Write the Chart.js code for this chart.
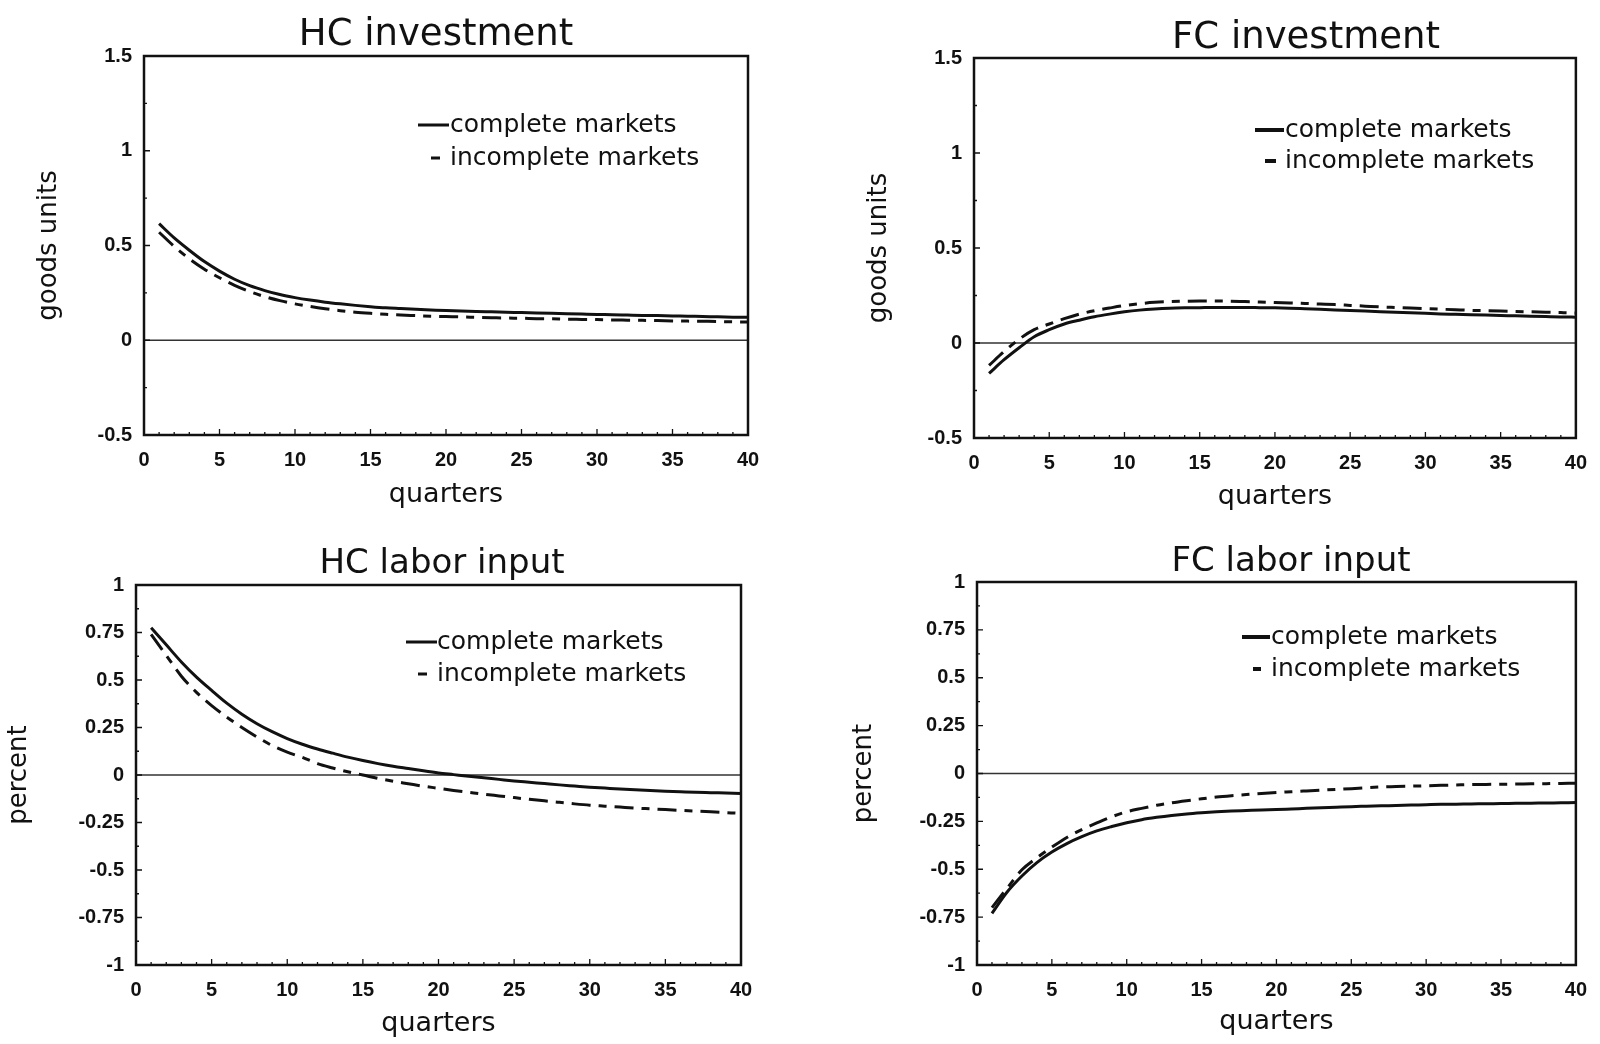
<!DOCTYPE html>
<html lang="en">
<head>
    <meta charset="UTF-8">
    <title>Investment and labor input responses</title>
    <script src="https://cdn.jsdelivr.net/npm/chart.js"></script>
    <style>
        html, body { margin: 0; padding: 0; background: #fff; }
        body { width: 1600px; height: 1044px; position: relative; overflow: hidden; }
        .panel { position: absolute; width: 800px; height: 522px; }
    </style>
</head>
<body>
    <div class="panel" style="left:0;top:0"><canvas id="hcInv"></canvas></div>
    <div class="panel" style="left:800px;top:0"><canvas id="fcInv"></canvas></div>
    <div class="panel" style="left:0;top:522px"><canvas id="hcLab"></canvas></div>
    <div class="panel" style="left:800px;top:522px"><canvas id="fcLab"></canvas></div>
    <script>
        const quarters = [1, 2, 3, 4, 5, 6, 7, 8, 9, 10, 11, 12, 13, 14, 15, 16, 17, 18, 19, 20,
                          21, 22, 23, 24, 25, 26, 27, 28, 29, 30, 31, 32, 33, 34, 35, 36, 37, 38, 39, 40];
        const xTicks = [0, 5, 10, 15, 20, 25, 30, 35, 40];
        const yTicksInvestment = [-0.5, 0, 0.5, 1, 1.5];
        const yTicksLabor = [-1, -0.75, -0.5, -0.25, 0, 0.25, 0.5, 0.75, 1];
        const seriesNames = ['complete markets', 'incomplete markets'];

        // HC investment (goods units)
        const hcInvComplete = [0.615, 0.54, 0.475, 0.415, 0.365, 0.322, 0.288, 0.262, 0.241, 0.225,
                               0.212, 0.201, 0.192, 0.184, 0.177, 0.171, 0.167, 0.163, 0.160, 0.157,
                               0.155, 0.152, 0.150, 0.148, 0.146, 0.144, 0.142, 0.140, 0.138, 0.136,
                               0.135, 0.133, 0.131, 0.130, 0.128, 0.127, 0.125, 0.124, 0.122, 0.121];
        const hcInvIncomplete = [0.57, 0.495, 0.43, 0.375, 0.33, 0.29, 0.257, 0.23, 0.209, 0.192,
                                 0.178, 0.166, 0.156, 0.148, 0.142, 0.137, 0.133, 0.130, 0.127, 0.125,
                                 0.123, 0.121, 0.119, 0.117, 0.116, 0.114, 0.113, 0.111, 0.110, 0.109,
                                 0.107, 0.106, 0.105, 0.104, 0.102, 0.101, 0.100, 0.099, 0.097, 0.096];

        // FC investment (goods units)
        const fcInvComplete = [-0.16, -0.088, -0.025, 0.033, 0.07, 0.1, 0.12, 0.138, 0.152, 0.164,
                               0.173, 0.179, 0.183, 0.185, 0.186, 0.187, 0.187, 0.187, 0.186, 0.185,
                               0.183, 0.180, 0.177, 0.174, 0.171, 0.168, 0.165, 0.162, 0.159, 0.156,
                               0.153, 0.151, 0.149, 0.147, 0.145, 0.143, 0.141, 0.139, 0.137, 0.136];
        const fcInvIncomplete = [-0.118, -0.045, 0.02, 0.07, 0.1, 0.128, 0.152, 0.17, 0.184, 0.197,
                                 0.207, 0.214, 0.218, 0.22, 0.221, 0.221, 0.22, 0.218, 0.216, 0.213,
                                 0.211, 0.208, 0.205, 0.202, 0.198, 0.194, 0.19, 0.187, 0.184, 0.181,
                                 0.178, 0.175, 0.172, 0.17, 0.168, 0.166, 0.164, 0.162, 0.16, 0.158];

        // HC labor input (percent)
        const hcLabComplete = [0.775, 0.685, 0.595, 0.515, 0.445, 0.378, 0.32, 0.27, 0.228, 0.192,
                               0.162, 0.137, 0.115, 0.094, 0.076, 0.06, 0.046, 0.034, 0.022, 0.011,
                               0.002, -0.007, -0.015, -0.023, -0.031, -0.038, -0.045, -0.052, -0.058, -0.064,
                               -0.069, -0.074, -0.078, -0.082, -0.085, -0.088, -0.091, -0.093, -0.095, -0.097];
        const hcLabIncomplete = [0.74, 0.63, 0.52, 0.435, 0.365, 0.305, 0.25, 0.2, 0.155, 0.12,
                                 0.093, 0.06, 0.037, 0.017, 0, -0.018, -0.033, -0.046, -0.059, -0.07,
                                 -0.081, -0.091, -0.101, -0.11, -0.119, -0.128, -0.136, -0.144, -0.152, -0.159,
                                 -0.164, -0.169, -0.174, -0.178, -0.182, -0.186, -0.19, -0.194, -0.198, -0.202];

        // FC labor input (percent)
        const fcLabComplete = [-0.73, -0.62, -0.535, -0.465, -0.41, -0.366, -0.33, -0.3, -0.277, -0.257,
                               -0.241, -0.229, -0.219, -0.211, -0.205, -0.2, -0.196, -0.193, -0.19, -0.188,
                               -0.185, -0.182, -0.179, -0.176, -0.173, -0.171, -0.169, -0.167, -0.165, -0.163,
                               -0.161, -0.16, -0.159, -0.158, -0.157, -0.156, -0.155, -0.154, -0.153, -0.152];
        const fcLabIncomplete = [-0.7, -0.6, -0.503, -0.44, -0.385, -0.334, -0.293, -0.258, -0.226, -0.2,
                                 -0.182, -0.166, -0.153, -0.142, -0.132, -0.123, -0.116, -0.11, -0.104, -0.099,
                                 -0.095, -0.091, -0.087, -0.083, -0.079, -0.074, -0.07, -0.068, -0.066, -0.064,
                                 -0.062, -0.06, -0.058, -0.057, -0.056, -0.055, -0.054, -0.053, -0.052, -0.051];

        const ink = '#111';
        const tickFont = { family: 'Liberation Sans', size: 20, weight: 'bold' };

        // frame, zero line, inward ticks, panel title and the hand-drawn legend
        const panelPlugin = {
            id: 'panel',
            beforeDatasetsDraw(chart) {
                const { ctx, chartArea: a, scales: { y } } = chart;
                const y0 = y.getPixelForValue(0);
                ctx.save();
                ctx.strokeStyle = '#333';
                ctx.lineWidth = 1.5;
                ctx.beginPath();
                ctx.moveTo(a.left, y0);
                ctx.lineTo(a.right, y0);
                ctx.stroke();
                ctx.restore();
            },
            afterDatasetsDraw(chart, args, o) {
                const { ctx, chartArea: a, scales: { x, y } } = chart;
                ctx.save();
                ctx.strokeStyle = ink;
                ctx.lineWidth = 1.3;
                ctx.beginPath();
                for (let q = 1; q < 40; q++) {
                    const px = x.getPixelForValue(q);
                    ctx.moveTo(px, a.bottom);
                    ctx.lineTo(px, a.bottom - (q % 5 === 0 ? 6 : 3));
                }
                const t = o.yTicks;
                const half = (t[1] - t[0]) / 2;
                t.forEach((v, i) => {
                    let py = y.getPixelForValue(v);
                    ctx.moveTo(a.left, py);
                    ctx.lineTo(a.left + 6, py);
                    if (i < t.length - 1) {
                        py = y.getPixelForValue(v + half);
                        ctx.moveTo(a.left, py);
                        ctx.lineTo(a.left + 3, py);
                    }
                });
                ctx.stroke();
                ctx.lineWidth = 2.5;
                ctx.strokeRect(a.left, a.top, a.right - a.left, a.bottom - a.top);
                ctx.restore();
            },
            afterDraw(chart, args, o) {
                const { ctx, chartArea: a } = chart;
                ctx.save();
                ctx.fillStyle = ink;
                ctx.textAlign = 'center';
                ctx.textBaseline = 'alphabetic';
                ctx.font = o.titleSize + 'px "DejaVu Sans"';
                ctx.fillText(o.title, o.titleX, o.titleY);

                const L = o.legend;
                ctx.textAlign = 'left';
                ctx.font = '25px "DejaVu Sans"';
                ctx.strokeStyle = ink;
                ctx.lineWidth = L.w;
                ctx.beginPath();
                ctx.moveTo(a.left + L.d1[0], a.top + L.y1);
                ctx.lineTo(a.left + L.d1[1], a.top + L.y1);
                ctx.moveTo(a.left + L.d2[0], a.top + L.y2);
                ctx.lineTo(a.left + L.d2[1], a.top + L.y2);
                ctx.stroke();
                ctx.fillText(seriesNames[0], a.left + L.tx, a.top + L.y1 + 7);
                ctx.fillText(seriesNames[1], a.left + L.tx, a.top + L.y2 + 7);
                ctx.restore();
            }
        };

        function makeChart(id, complete, incomplete, yTicks, p) {
            const toPoints = arr => quarters.map((q, i) => ({ x: q, y: arr[i] }));
            return new Chart(document.getElementById(id), {
                type: 'line',
                data: {
                    datasets: [
                        {
                            label: seriesNames[0],
                            data: toPoints(complete),
                            borderColor: ink,
                            borderWidth: 3,
                            pointRadius: 0,
                            cubicInterpolationMode: 'monotone',
                            fill: false
                        },
                        {
                            label: seriesNames[1],
                            data: toPoints(incomplete),
                            borderColor: ink,
                            borderWidth: 3,
                            borderDash: [19, 8, 8, 8],
                            pointRadius: 0,
                            cubicInterpolationMode: 'monotone',
                            fill: false
                        }
                    ]
                },
                options: {
                    responsive: true,
                    maintainAspectRatio: false,
                    animation: false,
                    layout: { padding: { top: p.padTop, right: p.padRight, bottom: 0, left: 0 } },
                    scales: {
                        x: {
                            type: 'linear',
                            min: 0,
                            max: 40,
                            afterBuildTicks: s => { s.ticks = xTicks.map(v => ({ value: v })); },
                            afterFit: s => { s.height = p.xHeight; },
                            grid: { display: false, drawTicks: false },
                            border: { display: false },
                            ticks: {
                                padding: 13,
                                autoSkip: false,
                                maxRotation: 0,
                                color: ink,
                                font: tickFont,
                                callback: v => String(v)
                            },
                            title: {
                                display: true,
                                text: 'quarters',
                                color: ink,
                                font: { family: 'DejaVu Sans', size: 27 },
                                padding: { top: 0, bottom: p.xTitlePad }
                            }
                        },
                        y: {
                            type: 'linear',
                            min: yTicks[0],
                            max: yTicks[yTicks.length - 1],
                            afterBuildTicks: s => { s.ticks = yTicks.map(v => ({ value: v })); },
                            afterFit: s => { s.width = p.yWidth; },
                            grid: { display: false, drawTicks: false },
                            border: { display: false },
                            ticks: {
                                padding: 12,
                                color: ink,
                                font: tickFont,
                                callback: v => String(v)
                            },
                            title: {
                                display: true,
                                text: p.yTitle,
                                color: ink,
                                font: { family: 'DejaVu Sans', size: 26 },
                                padding: { top: p.yTitlePad, bottom: 0 }
                            }
                        }
                    },
                    plugins: {
                        legend: { display: false },
                        title: { display: false },
                        tooltip: { enabled: false },
                        panel: {
                            yTicks: yTicks,
                            title: p.title,
                            titleSize: p.titleSize,
                            titleX: p.titleX,
                            titleY: p.titleY,
                            legend: p.legend
                        }
                    }
                },
                plugins: [panelPlugin]
            });
        }

        makeChart('hcInv', hcInvComplete, hcInvIncomplete, yTicksInvestment, {
            padTop: 56, padRight: 52, yWidth: 144, xHeight: 87, yTitlePad: 34, xTitlePad: 11,
            yTitle: 'goods units', title: 'HC investment', titleSize: 37, titleX: 436, titleY: 45,
            legend: { d1: [274, 305], d2: [287, 296], tx: 306, y1: 69, y2: 102, w: 3 }
        });
        makeChart('fcInv', fcInvComplete, fcInvIncomplete, yTicksInvestment, {
            padTop: 58, padRight: 21, yWidth: 174, xHeight: 84, yTitlePad: 64, xTitlePad: 9,
            yTitle: 'goods units', title: 'FC investment', titleSize: 37, titleX: 506, titleY: 48,
            legend: { d1: [281, 310], d2: [291, 302], tx: 311, y1: 72, y2: 103, w: 4 }
        });
        makeChart('hcLab', hcLabComplete, hcLabIncomplete, yTicksLabor, {
            padTop: 63, padRight: 59, yWidth: 136, xHeight: 79, yTitlePad: 4, xTitlePad: 4,
            yTitle: 'percent', title: 'HC labor input', titleSize: 34, titleX: 442, titleY: 51,
            legend: { d1: [270, 301], d2: [282, 291], tx: 301, y1: 57, y2: 89, w: 3 }
        });
        makeChart('fcLab', fcLabComplete, fcLabIncomplete, yTicksLabor, {
            padTop: 60, padRight: 21, yWidth: 177, xHeight: 79, yTitlePad: 49, xTitlePad: 6,
            yTitle: 'percent', title: 'FC labor input', titleSize: 34, titleX: 491, titleY: 49,
            legend: { d1: [265, 293], d2: [276, 284], tx: 294, y1: 55, y2: 87, w: 4 }
        });
    </script>
</body>
</html>
